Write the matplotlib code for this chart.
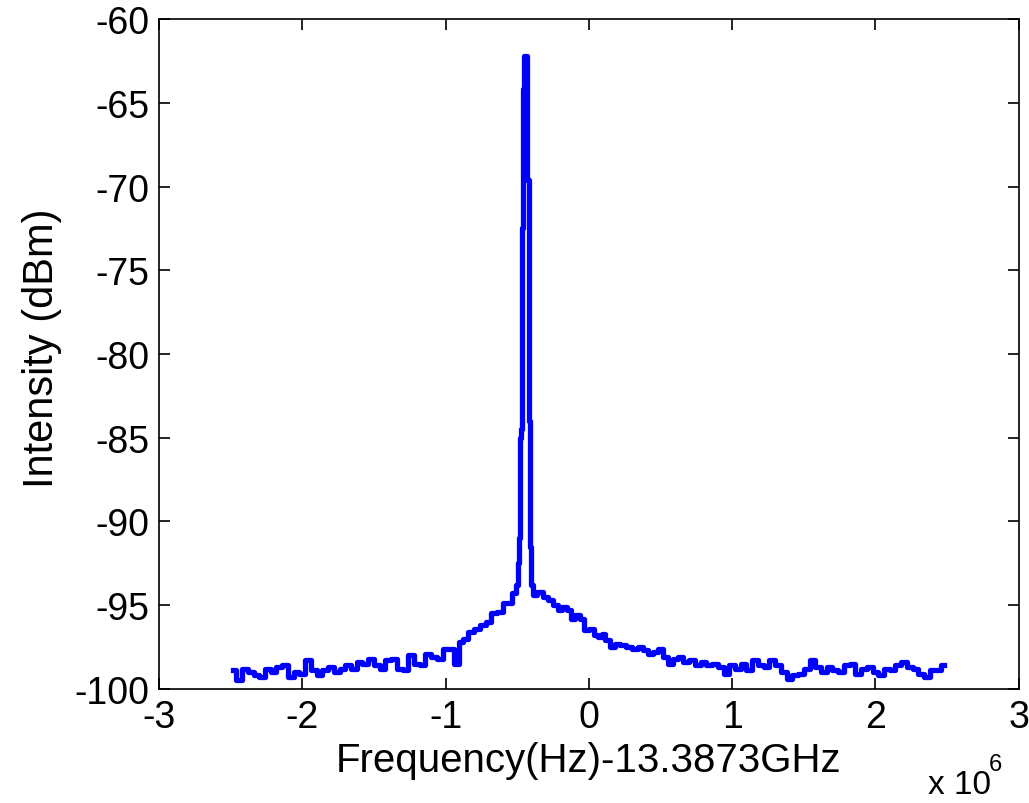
import matplotlib.pyplot as plt

# frequency offset in units of 1e6 Hz, intensity in dBm
freq = [-2.48, -2.44, -2.40, -2.36, -2.32, -2.28, -2.24, -2.20, -2.16, -2.12,
        -2.08, -2.04, -2.00, -1.96, -1.92, -1.88, -1.84, -1.80, -1.76, -1.72,
        -1.68, -1.64, -1.60, -1.56, -1.52, -1.48, -1.44, -1.40, -1.36, -1.32,
        -1.28, -1.24, -1.20, -1.16, -1.12, -1.08, -1.04, -1.00, -0.96, -0.92,
        -0.89, -0.86, -0.82, -0.78, -0.74, -0.70, -0.66, -0.62, -0.58, -0.55,
        -0.52, -0.50, -0.49, -0.485, -0.48, -0.47, -0.465, -0.455, -0.445, -0.435,
        -0.425, -0.415, -0.41, -0.40, -0.38, -0.34, -0.30, -0.27, -0.23, -0.20,
        -0.17, -0.14, -0.11, -0.08, -0.05, -0.02, 0.02, 0.05, 0.08, 0.10,
        0.13, 0.16, 0.20, 0.24, 0.28, 0.32, 0.36, 0.40, 0.43, 0.46,
        0.50, 0.54, 0.57, 0.60, 0.64, 0.68, 0.72, 0.76, 0.80, 0.84,
        0.88, 0.92, 0.96, 1.00, 1.04, 1.08, 1.12, 1.16, 1.20, 1.24,
        1.28, 1.32, 1.36, 1.40, 1.44, 1.48, 1.52, 1.56, 1.60, 1.64,
        1.68, 1.72, 1.76, 1.80, 1.84, 1.88, 1.92, 1.96, 2.00, 2.04,
        2.08, 2.12, 2.16, 2.20, 2.24, 2.28, 2.32, 2.36, 2.40, 2.44, 2.48]
intensity = [-98.9, -99.5, -98.8, -99.0, -99.2, -99.3, -98.8, -99.0, -98.7, -98.6,
             -99.3, -99.0, -99.1, -98.3, -98.9, -99.2, -98.9, -98.7, -99.0, -98.8,
             -98.6, -98.8, -98.4, -98.5, -98.2, -98.6, -98.8, -98.3, -98.2, -98.8,
             -98.9, -98.0, -98.5, -98.6, -97.9, -98.1, -98.2, -97.6, -97.6, -98.5,
             -97.2, -97.0, -96.6, -96.4, -96.2, -96.0, -95.5, -95.4, -94.9, -94.9,
             -94.3, -93.8, -92.5, -91.0, -85.0, -84.5, -72.5, -64.2, -62.2, -62.2,
             -69.6, -84.0, -91.5, -93.8, -94.4, -94.2, -94.5, -94.7, -95.0, -95.3,
             -95.1, -95.3, -95.8, -95.6, -95.8, -96.5, -96.4, -96.8, -96.9, -96.7,
             -97.1, -97.5, -97.3, -97.4, -97.5, -97.6, -97.5, -97.7, -97.9, -97.8,
             -97.6, -98.1, -98.5, -98.2, -98.1, -98.4, -98.3, -98.6, -98.4, -98.6,
             -98.5, -98.7, -99.1, -98.6, -98.8, -98.5, -98.9, -98.3, -98.6, -98.7,
             -98.3, -98.6, -99.0, -99.4, -99.2, -99.1, -98.8, -98.3, -98.7, -99.0,
             -98.7, -98.9, -99.0, -98.6, -98.5, -99.1, -98.8, -98.7, -99.0, -99.2,
             -98.8, -98.9, -98.6, -98.4, -98.7, -98.8, -99.1, -99.3, -98.9, -98.9, -98.6]

xticks = [-3, -2, -1, 0, 1, 2, 3]
yticks = [-100, -95, -90, -85, -80, -75, -70, -65, -60]

plt.rcParams['font.family'] = ['Liberation Sans', 'DejaVu Sans']

fig = plt.figure(figsize=(10.29, 8.04), dpi=100)
ax = fig.add_axes([0.1545, 0.142, 0.8355, 0.833])

ax.plot(freq, intensity, color='#0000ff', linewidth=3.8, drawstyle='steps-mid')

ax.set_xlim(-3, 3)
ax.set_ylim(-100, -60)
ax.set_xticks(xticks)
ax.set_yticks(yticks)
ax.set_xticklabels([str(t) for t in xticks])
ax.set_yticklabels([str(t) for t in yticks])
ax.tick_params(direction='in', length=8, width=1.2, labelsize=27,
               top=True, right=True, pad=7)
for s in ax.spines.values():
    s.set_linewidth(1.2)

ax.set_xlabel('Frequency(Hz)-13.3873GHz', fontsize=29)
ax.set_ylabel('Intensity (dBm)', fontsize=30)
ax.xaxis.set_label_coords(0.5, -0.078)
ax.yaxis.set_label_coords(-0.113, 0.51)

fig.text(0.902, 0.004, 'x 10', fontsize=24, ha='left', va='bottom')
fig.text(0.961, 0.035, '6', fontsize=17, ha='left', va='bottom')

plt.savefig('out.png', dpi=100)
